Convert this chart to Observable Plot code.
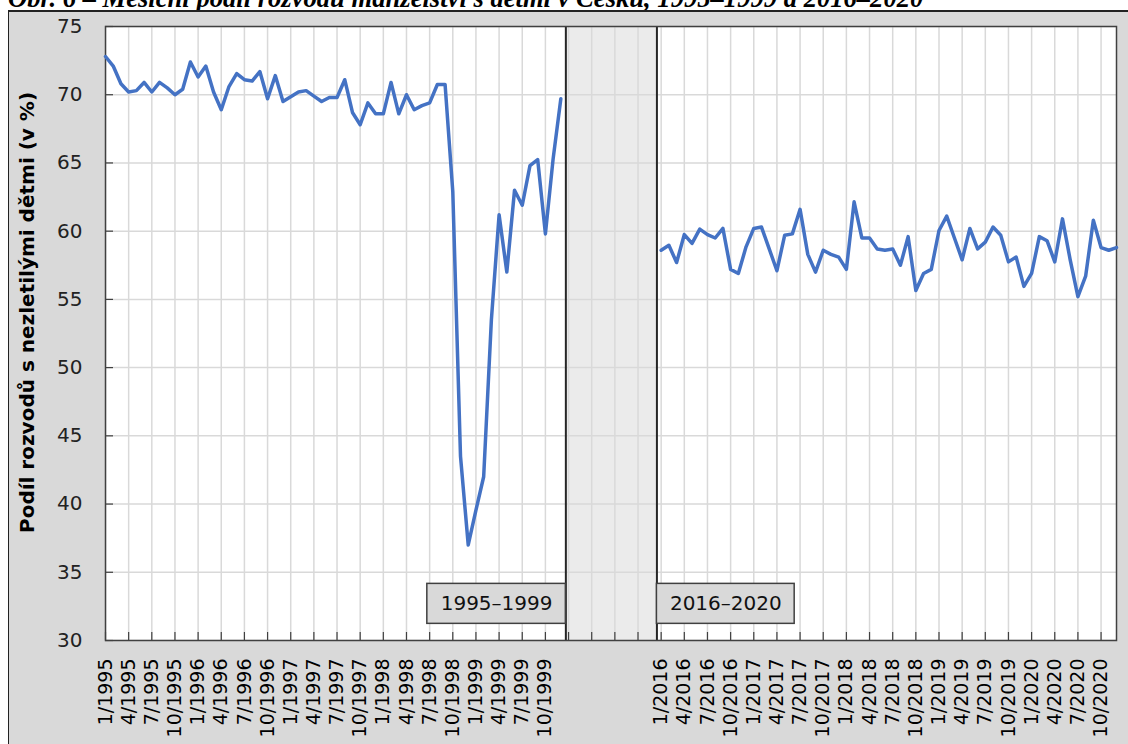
<!DOCTYPE html>
<html><head><meta charset="utf-8">
<script src="https://cdn.jsdelivr.net/npm/d3@7"></script>
<script src="https://cdn.jsdelivr.net/npm/@observablehq/plot@0.6"></script>
<style>
body{margin:0;background:#fff;width:1128px;height:744px;overflow:hidden;position:relative;font-family:"DejaVu Sans";}
#title{position:absolute;left:8px;top:-17px;font:italic bold 26.6px "Liberation Serif";line-height:normal;white-space:nowrap;color:#000;}
#panel{position:absolute;left:8px;top:10px;width:1200px;height:800px;background:#d9d9d9;border-left:1px solid #222;border-top:2px solid #222;}
#chart{position:absolute;left:0;top:0;}
</style></head><body>
<div id="title">Obr. 6 – Měsíční podíl rozvodů manželství s dětmi v Česku, 1995–1999 a 2016–2020</div>
<div id="panel"></div>
<div id="chart"></div>
<script>
// Monthly share (%) of divorces with minor children
const v1995_1999 = [
  72.8, 72.1, 70.8, 70.2, 70.3, 70.9, 70.2, 70.9, 70.5, 70.0, 70.4, 72.4,
  71.3, 72.1, 70.2, 68.9, 70.6, 71.55, 71.1, 71.0, 71.7, 69.7, 71.4, 69.5,
  69.85, 70.2, 70.3, 69.9, 69.5, 69.8, 69.8, 71.1, 68.7, 67.8, 69.4, 68.6,
  68.6, 70.9, 68.6, 70.0, 68.9, 69.2, 69.4, 70.75, 70.75, 62.9, 43.5, 37.0,
  39.55, 42.0, 53.5, 61.2, 57.0, 63.0, 61.9, 64.8, 65.25, 59.8, 65.3, 69.7
];
const v2016_2020 = [
  58.6, 58.97, 57.7, 59.75, 59.1, 60.15, 59.75, 59.5, 60.2, 57.2, 56.9, 58.85,
  60.2, 60.3, 58.7, 57.1, 59.7, 59.8, 61.6, 58.3, 57.0, 58.6, 58.3, 58.1,
  57.2, 62.15, 59.5, 59.5, 58.7, 58.6, 58.7, 57.5, 59.6, 55.65, 56.9, 57.2,
  60.05, 61.1, 59.5, 57.9, 60.2, 58.7, 59.2, 60.3, 59.7, 57.75, 58.1, 55.95,
  56.9, 59.6, 59.3, 57.75, 60.9, 57.9, 55.2, 56.7, 60.8, 58.8, 58.6, 58.8
];
const periods = ["1995–1999", "2016–2020"];
const labels1995 = ["1/1995","4/1995","7/1995","10/1995","1/1996","4/1996","7/1996","10/1996",
  "1/1997","4/1997","7/1997","10/1997","1/1998","4/1998","7/1998","10/1998",
  "1/1999","4/1999","7/1999","10/1999"];
const labels2016 = ["1/2016","4/2016","7/2016","10/2016","1/2017","4/2017","7/2017","10/2017",
  "1/2018","4/2018","7/2018","10/2018","1/2019","4/2019","7/2019","10/2019",
  "1/2020","4/2020","7/2020","10/2020"];
const yTicks = [30, 35, 40, 45, 50, 55, 60, 65, 70, 75];
const yLabel = "Podíl rozvodů s nezletilými dětmi (v %)";

// slot layout: 60 months, a 12-slot gap, 60 months
const offset2 = 72;
const gap = {start: 59.65, end: 71.45};
const data = [
  ...v1995_1999.map((v, i) => ({i, v, period: periods[0]})),
  ...v2016_2020.map((v, k) => ({i: offset2 + k, v, period: periods[1]}))
];
const labelTicks = [...labels1995.map((_, j) => j * 3), ...labels2016.map((_, j) => offset2 + j * 3)];
const labelMap = new Map([...labels1995.map((l, j) => [j * 3, l]), ...labels2016.map((l, j) => [offset2 + j * 3, l])]);
const gridTicks = d3.range(0, 132, 3);
const boxes = [
  {label: periods[0], x1: 41.7, x2: gap.start, y1: 31.22, y2: 34.15},
  {label: periods[1], x1: gap.end, x2: 89.3, y1: 31.22, y2: 34.15}
];

const W = 1128, H = 744, mL = 105, mR = 12, mT = 26, mB = 104;
const plotH = H - mT - mB, plotW = W - mL - mR;

const chart = Plot.plot({
  width: W, height: H,
  marginLeft: mL, marginRight: mR, marginTop: mT, marginBottom: mB,
  style: {background: "transparent", fontFamily: "DejaVu Sans", overflow: "visible", color: "#000"},
  x: {domain: [0, 131]},
  y: {domain: [30, 75]},
  marks: [
    Plot.frame({fill: "white"}),
    Plot.rect([gap], {x1: "start", x2: "end", y1: 30, y2: 75, fill: "#ebebeb"}),
    Plot.gridX(gridTicks, {stroke: "#d9d9d9", strokeOpacity: 1, strokeWidth: 1.5}),
    Plot.gridY(yTicks, {stroke: "#d9d9d9", strokeOpacity: 1, strokeWidth: 1.5}),
    Plot.tickX(gridTicks, {x: d => d, stroke: "#404040", strokeWidth: 1.2, insetTop: plotH - 8}),
    Plot.tickY(yTicks, {y: d => d, stroke: "#404040", strokeWidth: 1.2, insetRight: plotW - 8}),
    Plot.ruleX([gap.start, gap.end], {stroke: "#262626", strokeWidth: 2}),
    Plot.frame({stroke: "#404040", strokeWidth: 1.5}),
    Plot.line(data, {x: "i", y: "v", z: "period", stroke: "#4472C4", strokeWidth: 3.5}),
    Plot.rect(boxes, {x1: "x1", x2: "x2", y1: "y1", y2: "y2", fill: "#d9d9d9", stroke: "#404040", strokeWidth: 1.5}),
    Plot.text(boxes, {x: d => (d.x1 + d.x2) / 2, y: d => (d.y1 + d.y2) / 2, text: "label", fontSize: 20, fill: "#111"}),
    Plot.axisX({ticks: labelTicks, tickFormat: d => labelMap.get(d), tickRotate: -90, tickSize: 0, tickPadding: 18, fontSize: 19, fill: "#000", label: null}),
    Plot.axisY({ticks: yTicks, tickSize: 0, tickPadding: 23, fontSize: 20, fill: "#222", label: null}),
    Plot.text([yLabel], {text: d => d, frameAnchor: "left", textAnchor: "middle", rotate: -90, dx: -78, dy: -21, fontSize: 20, fontWeight: "bold", fill: "#000"})
  ]
});
document.getElementById("chart").appendChild(chart);
</script></body></html>
